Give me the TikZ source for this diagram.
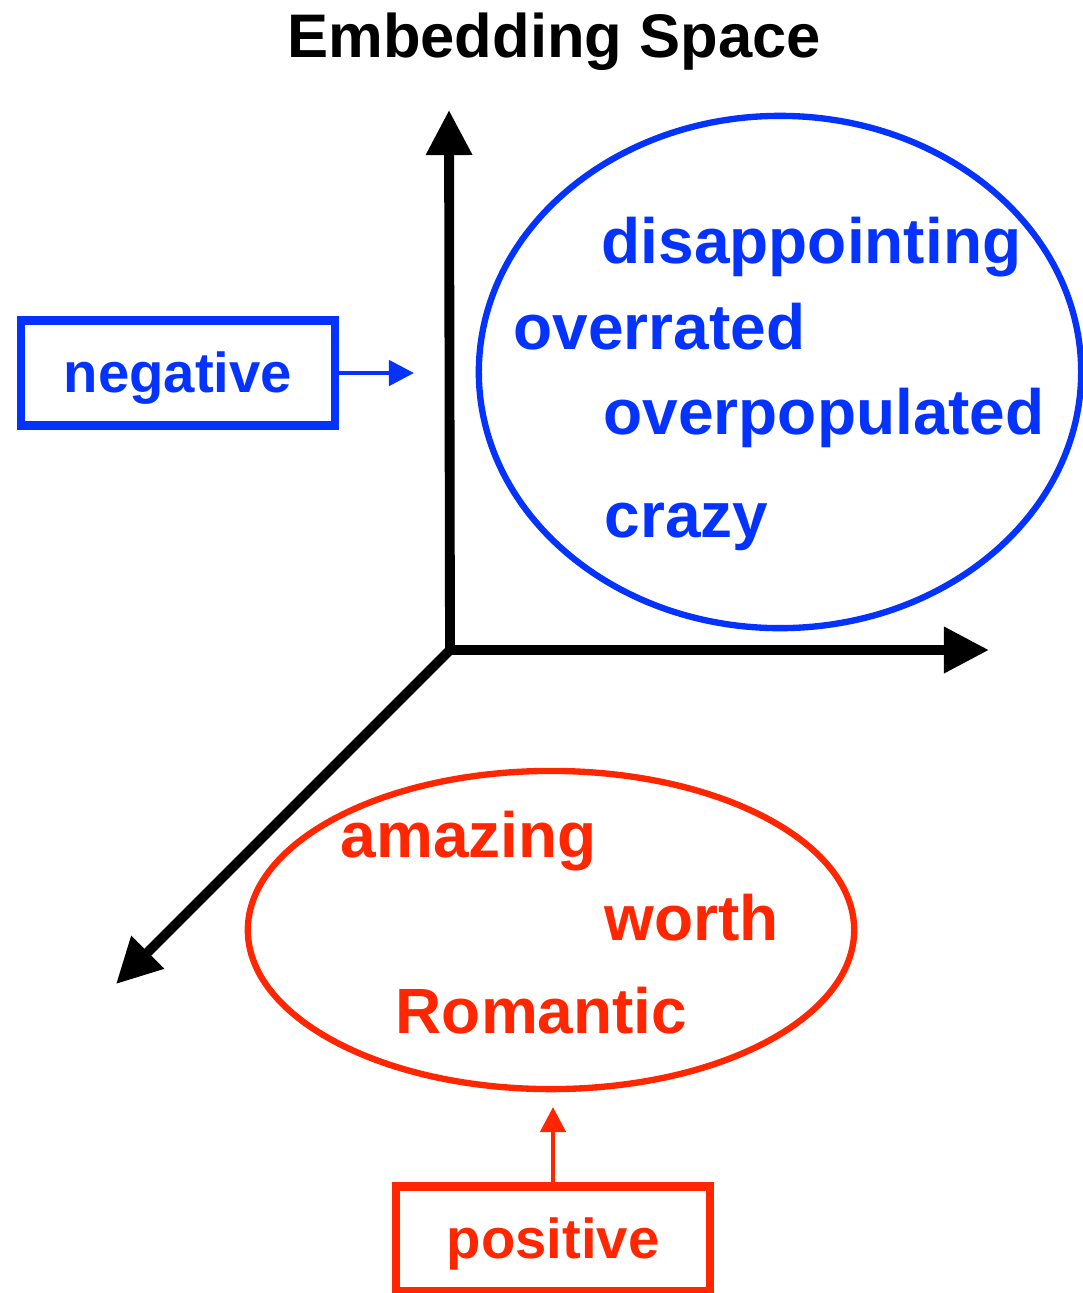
\documentclass[tikz,border=0pt]{standalone}
\usepackage{fontspec}
\setmainfont{Liberation Sans}
\usetikzlibrary{arrows.meta,positioning,shapes.geometric}
\definecolor{negblue}{HTML}{0433FF}
\definecolor{posred}{HTML}{FF2600}

\begin{document}
\begin{tikzpicture}[x=0.01cm, y=-0.01cm,
    word/.style={anchor=base west, inner sep=0pt, font=\fontsize{18.2}{22}\selectfont\bfseries},
    axis/.style={line width=2.8pt, -{Triangle[length=0.45cm, width=0.44cm]}},
    cloud/.style={draw, ellipse, line width=1.8pt, inner sep=0pt},
    labelbox/.style={draw, line width=2.4pt, minimum width=3.14cm, minimum height=1.05cm,
      text height=0.48cm, text depth=0.1cm, font=\fontsize{16}{20}\selectfont\bfseries},
    pointer/.style={line width=1.3pt, -{Triangle[length=0.25cm, width=0.25cm]}}]
    \useasboundingbox (0,0) rectangle (1083,1293);

    \node[anchor=base, font=\fontsize{17.5}{21}\selectfont\bfseries] (title) at (554,57) {Embedding Space};

    % axes
    \coordinate (origin) at (450,650);
    \coordinate (ytip) at (449,110);
    \coordinate (xtip) at (989,650);
    \coordinate (ztip) at (116,984);
    \draw[axis] (origin) -- (ytip);
    \draw[axis] (origin) -- (xtip);
    \draw[axis] (origin) -- (ztip);

    % clusters
    \node[cloud, negblue, minimum width=6.02cm, minimum height=5.12cm] (negcloud) at (780,372) {};
    \node[cloud, posred, minimum width=6.06cm, minimum height=3.18cm] (poscloud) at (551,930) {};

    \node[word, negblue] (disappointing) at (601,263) {disappointing};
    \node[word, negblue] (overrated) at (513,349) {overrated};
    \node[word, negblue] (overpopulated) at (603,434) {overpopulated};
    \node[word, negblue] (crazy) at (604,537) {crazy};

    \node[word, posred] (amazing) at (340,857) {amazing};
    \node[word, posred] (worth) at (604,940) {worth};
    \node[word, posred] (romantic) at (395,1033) {Romantic};

    % labels
    \node[labelbox, negblue] (negbox) at (178,373) {negative};
    \node[labelbox, posred] (posbox) at (553,1239) {positive};
    \coordinate (negtip) at (414,373);
    \coordinate (postip) at (553,1107);
    \draw[pointer, negblue] (negbox.east) -- (negtip);
    \draw[pointer, posred] (posbox.north) -- (postip);
\end{tikzpicture}
\end{document}
